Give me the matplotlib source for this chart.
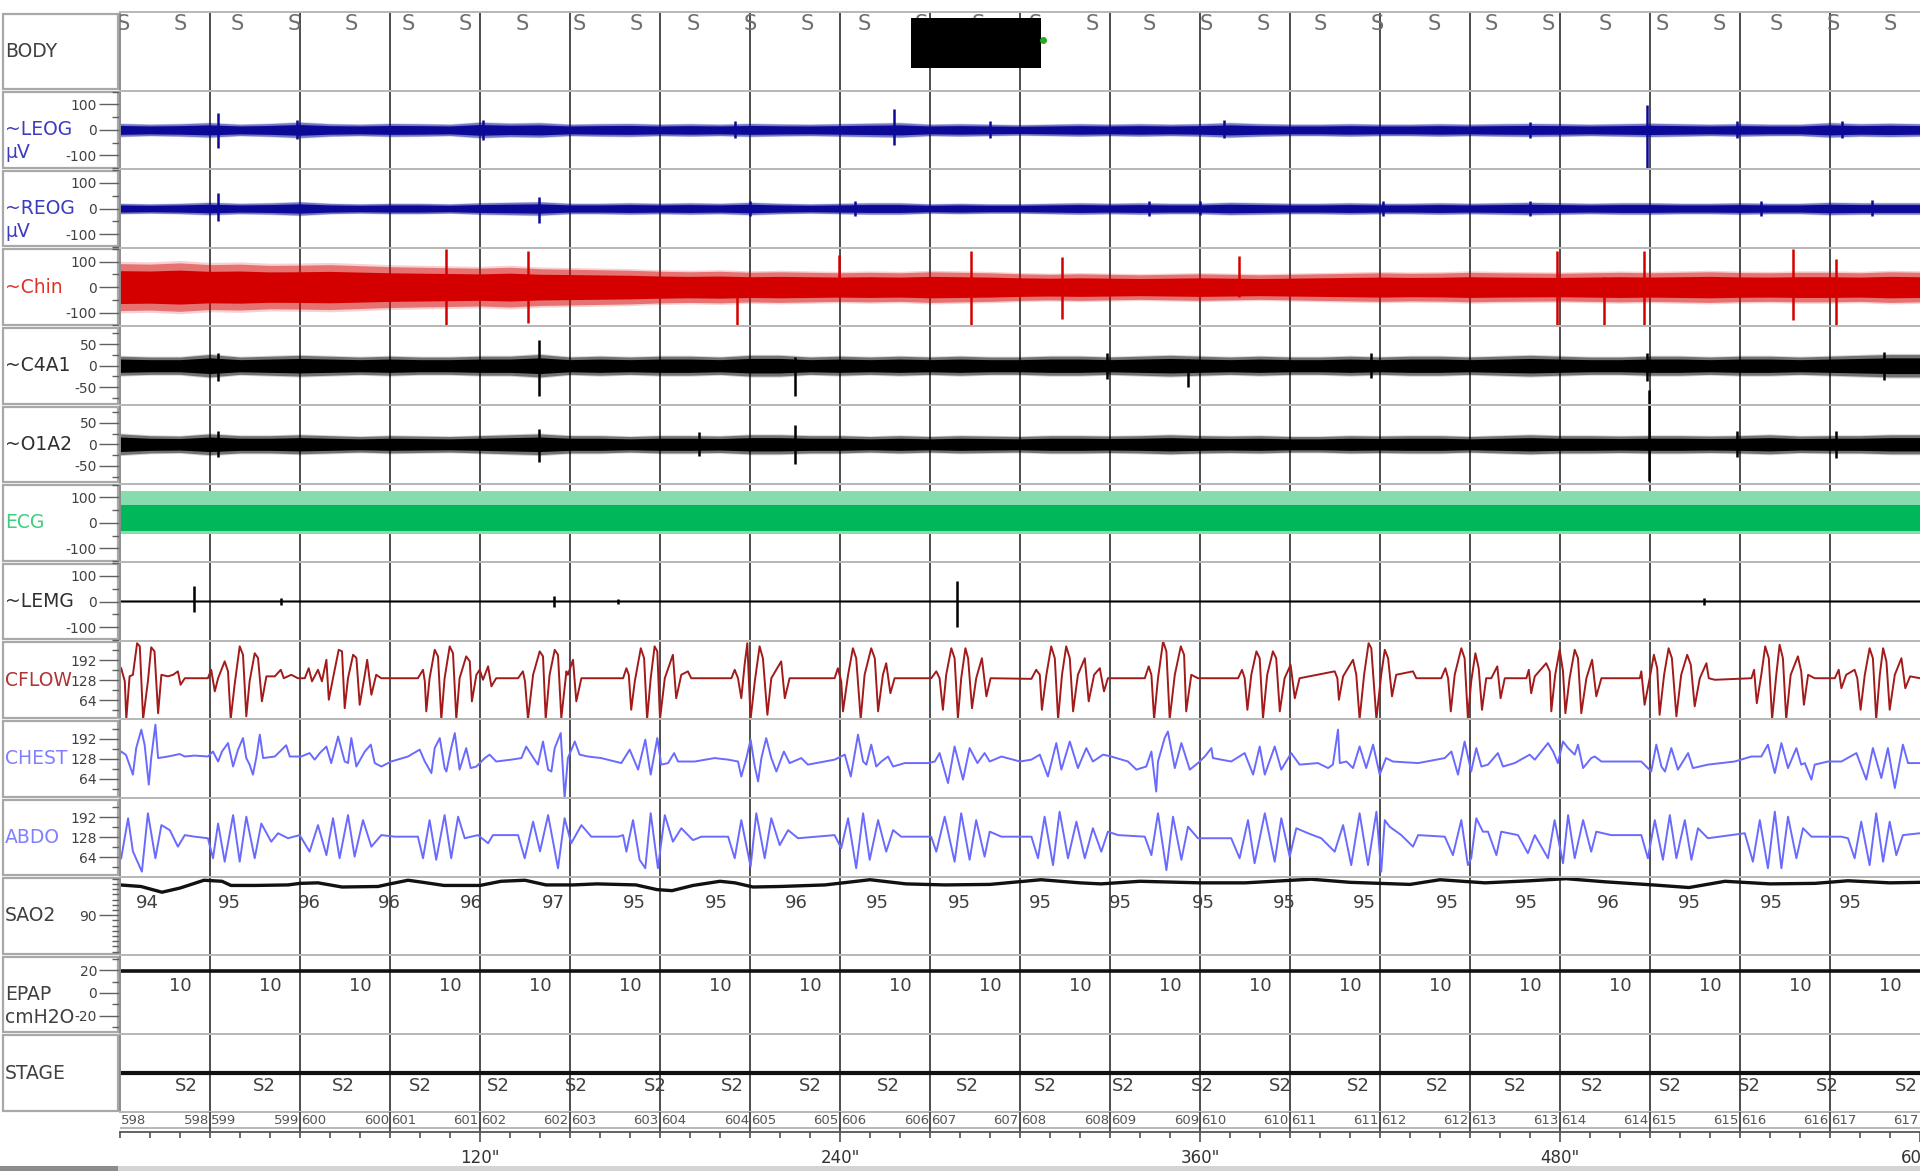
import numpy as np
import matplotlib
matplotlib.use("Agg")
import matplotlib.pyplot as plt
from matplotlib.patches import Rectangle

plt.rcParams["font.family"] = ["DejaVu Sans"]
plt.rcParams["axes.unicode_minus"] = False

# ---------------- data ----------------
rows = ["BODY", "~LEOG", "~REOG", "~Chin", "~C4A1", "~O1A2", "ECG", "~LEMG",
        "CFLOW", "CHEST", "ABDO", "SAO2", "EPAP", "STAGE"]
row_units = {"~LEOG": "µV", "~REOG": "µV", "EPAP": "cmH2O"}
epochs = list(range(598, 618))          # 30 s epochs, 0..600 s on screen
time_labels = [120, 240, 360, 480, 600]

# body position marks ("S") and the redacted box
body_t = [1, 20, 39, 58, 77, 96, 115, 134, 153, 172, 191, 210, 229, 248, 267, 286,
          305, 324, 343, 362, 381, 400, 419, 438, 457, 476, 495, 514, 533, 552, 571, 590]

# noisy channels: envelope (+/- amplitude) every 10 s, plus single spikes (t, up, down)
env_t = list(range(0, 610, 10))
leog_amp = [25, 22, 24, 28, 22, 25, 30, 24, 22, 25, 24, 22, 30, 26, 28, 22, 24, 25, 22, 24,
            22, 25, 23, 22, 24, 26, 28, 22, 24, 22, 20, 22, 24, 22, 24, 22, 24, 28, 24, 22,
            22, 24, 22, 22, 24, 22, 24, 25, 24, 22, 24, 26, 24, 22, 24, 22, 22, 28, 24, 26, 24]
leog_spk = [(32.7, 65, 70), (59, 40, 35), (121, 38, 38), (205, 33, 33), (258, 82, 60),
            (290, 35, 30), (368, 38, 32), (470, 32, 30), (509, 96, 150), (539, 34, 30),
            (574, 36, 32)]
reog_amp = [20, 18, 20, 24, 20, 22, 26, 20, 18, 20, 20, 18, 22, 24, 26, 20, 20, 22, 20, 22,
            20, 24, 20, 18, 20, 22, 22, 18, 20, 18, 18, 20, 22, 20, 22, 20, 20, 24, 22, 20,
            20, 22, 20, 20, 22, 20, 22, 24, 22, 20, 22, 22, 20, 20, 22, 20, 20, 24, 22, 22, 22]
reog_spk = [(32.6, 62, 48), (139.5, 45, 58), (210, 30, 30), (245, 30, 28), (343, 30, 30),
            (360, 30, 25), (421, 30, 28), (470, 28, 30), (547, 30, 28), (584, 32, 30)]
chin_amp = [92, 90, 95, 88, 90, 85, 86, 88, 84, 80, 78, 76, 74, 78, 72, 70, 68, 66, 62, 60,
            62, 58, 60, 58, 56, 58, 56, 60, 58, 56, 52, 50, 52, 50, 48, 50, 52, 50, 48, 50,
            52, 54, 56, 54, 55, 58, 56, 55, 54, 56, 58, 56, 58, 60, 57, 56, 58, 58, 56, 60, 58]
chin_spk = [(108.6, 150, 150), (136, 140, 140), (205.6, 40, 150), (239.5, 125, 40),
            (283.6, 140, 150), (314, 118, 125), (373, 120, 40), (479, 140, 150),
            (494.5, 40, 150), (508, 140, 150), (557.7, 150, 130), (572, 110, 150)]
c4a1_amp = [22, 20, 20, 26, 20, 22, 24, 22, 20, 22, 20, 20, 22, 22, 26, 20, 22, 20, 22, 22,
            20, 24, 24, 20, 22, 20, 22, 20, 22, 20, 20, 22, 22, 20, 22, 24, 22, 20, 22, 20,
            20, 22, 20, 22, 22, 20, 22, 24, 22, 20, 20, 22, 22, 20, 22, 22, 20, 22, 24, 26, 26]
c4a1_spk = [(32.7, 30, 35), (139.5, 60, 70), (225, 20, 70), (329, 30, 30), (356, 15, 50),
            (417, 30, 28), (509, 30, 35), (588, 32, 32)]
o1a2_amp = [24, 20, 19, 24, 20, 20, 22, 20, 18, 20, 19, 18, 20, 22, 24, 20, 20, 18, 20, 20,
            19, 22, 22, 20, 20, 18, 20, 18, 20, 19, 18, 20, 20, 19, 20, 22, 20, 19, 20, 18,
            18, 20, 19, 20, 20, 18, 20, 22, 20, 20, 19, 20, 20, 19, 20, 22, 19, 20, 20, 22, 22]
o1a2_spk = [(32.7, 30, 30), (139.5, 35, 40), (193, 28, 28), (225, 45, 45), (509.6, 125, 85),
            (539, 30, 30), (572, 30, 32)]
ecg_light = (-45, 125)
ecg_dark = (-30, 72)
lemg_amp = 4
lemg_spk = [(24.5, 62, 43), (53.5, 15, 15), (144.7, 20, 22), (166, 10, 10), (279, 82, 100),
            (528, 14, 14)]

# respiratory traces, (t [s], value)
cflow_pts = [
    (0.4, 166), (1.6, 124), (2.1, 3), (3.2, 140), (4.3, 145), (5.7, 246), (6.6, 236), (7.7, 3),
    (9.3, 124), (10.4, 233), (11.5, 220), (12.7, 22), (13.8, 145), (16, 140), (17.7, 145),
    (19.3, 156), (20.2, 113), (21.6, 134), (29.3, 134), (30.4, 161), (31.6, 92), (32.7, 134),
    (34.9, 188), (36, 156), (36.9, 3), (38.2, 113), (39.9, 236), (41, 209), (42.1, 12),
    (43.2, 124), (44.9, 214), (46, 199), (47.3, 60), (48.8, 140), (51.6, 140), (53.6, 161),
    (54.6, 134), (57.1, 145), (59.3, 134), (61.6, 134), (62.9, 166), (64, 124), (66, 161),
    (67.3, 124), (68.8, 193), (69.6, 65), (71, 134), (72.9, 225), (74, 220), (74.9, 38),
    (76, 134), (77.7, 209), (78.8, 199), (79.9, 49), (81.6, 145), (82.4, 193), (83.8, 81),
    (85.4, 145), (87.1, 134), (99.3, 134), (101, 161), (101.6, 124), (102.1, 28), (103.2, 134),
    (104.9, 225), (106, 204), (107.1, 3), (108.2, 134), (109.9, 236), (111, 214), (112.1, 3),
    (113.2, 134), (115.4, 204), (116.6, 188), (117.3, 60), (118.8, 145), (119.9, 161),
    (121, 129), (122.7, 172), (123.8, 108), (125.4, 134), (132.7, 134), (134.3, 156),
    (135, 124), (136, 3), (137.7, 145), (139.9, 220), (141, 204), (141.9, 3), (143.2, 145),
    (144.9, 225), (146, 209), (147.1, 6), (148.8, 156), (149.3, 145), (151, 193), (152.1, 60),
    (153.8, 134), (167.7, 134), (168.8, 166), (169.6, 145), (170.4, 33), (171.6, 124),
    (173.6, 230), (174.7, 198), (175.7, 3), (176.9, 134), (178.2, 236), (179.1, 220), (180, 3),
    (181.6, 134), (184.3, 209), (185.4, 70), (187.1, 145), (189.3, 156), (190.4, 134),
    (203.8, 134), (204.9, 161), (206, 134), (207.1, 70), (208.2, 177), (209.1, 246),
    (210.2, 3), (211.6, 124), (213.2, 236), (214.3, 198), (215.8, 17), (217.1, 134),
    (220.4, 188), (221.6, 70), (223.2, 134), (238.2, 134), (239.3, 166), (240.4, 124),
    (241, 28), (242.7, 145), (244.3, 230), (245.4, 198), (246.9, 3), (248.2, 145), (250.4, 230),
    (251.6, 198), (252.7, 28), (254.3, 145), (255.4, 182), (256.8, 86), (258.2, 134),
    (270.4, 134), (272.1, 156), (273.2, 134), (274.3, 33), (275.4, 145), (277.1, 230),
    (278.2, 198), (279.3, 6), (280.4, 134), (281.8, 230), (282.7, 198), (284, 38), (285.4, 134),
    (287.3, 198), (288.8, 76), (290.2, 134), (303.8, 132), (305.4, 161), (306.6, 145),
    (307.3, 33), (308.8, 145), (310.4, 236), (311.6, 198), (312.7, 3), (314, 145), (315.4, 236),
    (316.6, 198), (317.7, 28), (319.3, 145), (321.6, 198), (322.9, 60), (324.7, 145),
    (326.6, 166), (328, 92), (329.3, 134), (341.6, 134), (342.9, 172), (343.8, 145), (344.7, 3),
    (346, 134), (347.7, 252), (348.8, 220), (349.9, 3), (351.6, 145), (353.6, 236),
    (354.7, 209), (355.4, 28), (357.1, 145), (359.3, 134), (372.7, 134), (374, 161),
    (374.9, 134), (375.8, 33), (377.1, 145), (378.8, 220), (379.9, 198), (381, 6), (382.4, 145),
    (384.3, 220), (385.4, 198), (386.6, 28), (388.2, 134), (390.2, 177), (391.6, 70),
    (393.2, 134), (404.9, 156), (405.8, 134), (406.3, 65), (407.7, 140), (411, 193),
    (412.1, 145), (413.2, 3), (414.7, 145), (416.2, 246), (417.1, 230), (418.8, 3), (420.4, 145),
    (421.6, 225), (422.7, 198), (424, 76), (425.4, 145), (431, 156), (432.1, 134), (440.4, 134),
    (441.8, 166), (442.7, 134), (443.6, 28), (444.9, 145), (447.1, 230), (448.2, 198),
    (449.3, 6), (450.4, 124), (451.8, 214), (452.9, 166), (454, 33), (455.4, 134), (457.1, 134),
    (459.1, 172), (460.2, 70), (461.6, 134), (468.8, 134), (469.6, 161), (470.4, 86),
    (471.6, 140), (475.4, 182), (476.6, 156), (477.1, 28), (478.4, 145), (479.9, 225),
    (481, 156), (481.8, 22), (483.2, 134), (484.9, 225), (486, 198), (487.1, 22), (488.8, 134),
    (490.7, 193), (492.1, 76), (493.8, 134), (506.6, 134), (507.1, 156), (508.2, 49),
    (509.9, 134), (511.3, 209), (512.4, 166), (513.2, 17), (514.7, 145), (516.2, 230),
    (517.3, 198), (518.8, 12), (520.4, 145), (522.4, 209), (523.6, 177), (524.9, 44),
    (526.6, 134), (528.8, 182), (529.6, 134), (531.6, 129), (543.8, 134), (544.7, 161),
    (545.6, 54), (547.1, 145), (548.4, 236), (549.6, 198), (550.7, 3), (552.1, 145),
    (553.2, 241), (554.3, 198), (555.4, 3), (556.9, 145), (559.3, 204), (560.4, 156),
    (561.3, 49), (562.7, 145), (564.9, 134), (571.6, 134), (572.9, 161), (573.8, 102),
    (575.4, 145), (578.2, 161), (579.1, 134), (580.2, 33), (581.6, 145), (583.2, 230),
    (584.3, 198), (585.4, 3), (586.6, 145), (587.7, 230), (588.8, 188), (589.9, 33),
    (591.6, 145), (593.8, 198), (595.1, 102), (596.7, 140), (600, 134)]

chest_pts = [
    (0, 145), (0.4, 151), (2, 140), (4.3, 77), (5.4, 162), (7.1, 221), (8.2, 173), (9.6, 45),
    (10.4, 130), (11.8, 237), (12.7, 130), (16, 135), (19.9, 143), (21.6, 135), (24.9, 138),
    (29.3, 135), (31, 151), (32.7, 119), (34, 151), (36, 178), (37.7, 103), (39.3, 156),
    (41, 194), (42.1, 130), (43.2, 109), (44.3, 77), (45.4, 130), (46.6, 205), (47.7, 130),
    (51.6, 135), (55.4, 171), (56.6, 135), (60.4, 135), (63.2, 146), (64.9, 125), (66.6, 146),
    (68.8, 167), (70.4, 114), (72.7, 199), (74.9, 119), (76, 114), (77.1, 194), (78.8, 103),
    (81.6, 151), (83.6, 173), (84.9, 114), (87.1, 103), (90.4, 119), (96, 135), (99.9, 157),
    (101.6, 119), (103.8, 82), (104.9, 162), (106.6, 194), (108.2, 98), (108.8, 87),
    (110.4, 162), (111.6, 210), (113.2, 93), (115.4, 162), (116.9, 98), (118.8, 103),
    (121.6, 130), (123.2, 141), (125.4, 119), (130.4, 125), (133.8, 130), (135.4, 167),
    (137.1, 141), (139.3, 109), (141, 183), (142.7, 93), (143.8, 87), (144.9, 162),
    (146.9, 210), (148.2, 2), (149.3, 130), (151.6, 183), (153.2, 141), (156, 135),
    (160.4, 130), (167.1, 114), (169.9, 157), (172.7, 93), (175.1, 189), (176.9, 77),
    (179.1, 194), (180.4, 109), (182.7, 114), (184.7, 146), (186, 119), (191.6, 119),
    (198.2, 130), (202.7, 125), (206, 119), (207.1, 71), (208.8, 130), (210.2, 189),
    (211.6, 103), (212.7, 55), (213.8, 130), (215.4, 194), (217.1, 130), (218.8, 87),
    (221.3, 151), (223.2, 114), (227.1, 130), (229.3, 109), (238.2, 125), (241.6, 141),
    (243.6, 71), (246, 205), (247.7, 119), (248.8, 109), (250.4, 173), (252.1, 103),
    (253.8, 119), (256, 135), (257.7, 103), (261.6, 114), (269.3, 114), (271.6, 119),
    (273.2, 146), (276, 50), (278.2, 167), (281, 61), (283.2, 162), (285.8, 114), (288.2, 146),
    (289.9, 119), (293.8, 135), (300, 119), (303.8, 125), (306.6, 141), (309.3, 71),
    (312.1, 178), (313.8, 93), (316.6, 183), (319.3, 98), (322.1, 162), (324.3, 119),
    (327.7, 141), (330.4, 135), (336, 119), (338.8, 93), (342.1, 103), (343.8, 151),
    (345.4, 23), (346, 119), (348.2, 194), (349.3, 215), (351.6, 98), (353.8, 178), (356.6, 93),
    (359.3, 114), (361.6, 135), (363.8, 162), (364.3, 130), (370.4, 119), (374.9, 146),
    (377.7, 77), (379.9, 167), (381.6, 77), (384.9, 167), (387.1, 93), (390.4, 146),
    (393.2, 109), (399.3, 114), (402.7, 98), (404.3, 109), (406, 221), (406.6, 114),
    (408.8, 119), (411, 98), (413.2, 167), (415.4, 98), (417.7, 173), (419.9, 77), (422, 130),
    (424.3, 119), (432.7, 114), (441.6, 130), (443.8, 151), (446, 77), (448.2, 183),
    (450.4, 87), (452.1, 162), (453.8, 103), (456, 109), (459.3, 146), (461, 103), (464.9, 114),
    (469.9, 141), (471.6, 125), (476, 178), (477.7, 151), (479.3, 114), (481, 183),
    (482.7, 162), (484.9, 141), (486, 173), (487.7, 98), (490.4, 130), (491.6, 135),
    (493.8, 119), (499.3, 119), (507.1, 119), (510.4, 87), (512.1, 173), (513.8, 103), (515, 87),
    (517.1, 162), (519.3, 93), (522.7, 146), (524.3, 98), (529.3, 109), (538.2, 119),
    (543.8, 135), (547.1, 135), (549.3, 173), (551.6, 82), (553.8, 178), (556, 98), (558.8, 162),
    (560.4, 109), (561.6, 114), (563.8, 61), (564.9, 109), (569.3, 119), (573.8, 119),
    (578.8, 146), (582.1, 61), (584.3, 162), (587.1, 66), (589.3, 162), (591.6, 34),
    (594.3, 173), (596, 114), (600, 114)]

abdo_pts = [
    (0.4, 61), (2.7, 189), (4.3, 83), (7.3, 18), (9.3, 205), (11.8, 61), (13.8, 167),
    (16.6, 151), (19.3, 98), (21.6, 135), (24.9, 130), (29.3, 125), (31, 61), (32.7, 172),
    (34.9, 50), (37.7, 199), (39.9, 50), (42.1, 194), (44.9, 61), (47.1, 172), (50.4, 114),
    (52.7, 141), (56, 125), (59.9, 135), (63.2, 82), (66, 167), (68.8, 71), (71, 189), (73.2, 61),
    (76, 199), (78.2, 66), (81, 183), (83.8, 98), (87.1, 135), (91.6, 130), (99.3, 130),
    (101, 61), (103.2, 183), (105.4, 56), (108.2, 199), (110.4, 61), (112.7, 194), (114.9, 125),
    (119.3, 135), (122.7, 109), (124.3, 135), (132.7, 135), (134.9, 61), (137.7, 178),
    (140, 83), (142.7, 199), (146, 29), (148.2, 189), (150.4, 109), (153.8, 167), (157.1, 130),
    (166, 130), (167.7, 135), (168.8, 82), (171, 183), (173.2, 56), (175.1, 29), (176.9, 205),
    (179.3, 29), (181.6, 199), (184.3, 114), (187.1, 157), (191, 119), (193.8, 130),
    (202.7, 130), (204.9, 61), (207.1, 183), (210.2, 34), (212.1, 205), (214.9, 61),
    (217.1, 189), (219.9, 103), (222.7, 151), (226, 125), (238.2, 135), (240.4, 93),
    (242.7, 189), (245.4, 29), (247.7, 205), (249.9, 56), (252.7, 183), (255.4, 82),
    (257.7, 151), (260.4, 130), (270.4, 130), (272.1, 82), (274.9, 194), (278.2, 50),
    (280.4, 205), (283.2, 56), (285.4, 183), (288.2, 66), (289.9, 146), (293.8, 130),
    (303.8, 130), (306, 61), (308.2, 194), (311, 39), (313.2, 210), (316, 61), (318.8, 178),
    (321.6, 61), (324.3, 157), (327.1, 82), (329.3, 146), (332.7, 135), (341.6, 130),
    (343.8, 71), (346, 205), (348.8, 23), (351, 194), (353.8, 56), (356, 162), (359.3, 125),
    (370.4, 125), (373.2, 61), (376, 183), (378.2, 45), (381.6, 205), (384.9, 50), (387.1, 189),
    (389.9, 66), (392.1, 157), (396, 141), (400.4, 125), (404.9, 82), (407.7, 167),
    (410.4, 39), (413.2, 205), (416, 39), (418.8, 210), (420.4, 18), (421.6, 183), (423.2, 162),
    (427.1, 135), (431, 98), (432.7, 135), (441.6, 130), (444.3, 71), (447.1, 183), (449.3, 39),
    (450.4, 61), (452.1, 189), (454.3, 146), (456, 146), (458.8, 71), (460.4, 146), (466, 135),
    (469.3, 77), (471.6, 135), (476, 61), (478.2, 183), (481, 45), (482.7, 199), (484.9, 61),
    (487.7, 183), (490.4, 82), (492.1, 146), (497.1, 135), (507.1, 135), (509.3, 61),
    (511.6, 183), (514.3, 56), (516.6, 199), (518.8, 61), (521.6, 183), (523.8, 56), (526, 157),
    (529.3, 125), (537.1, 135), (541.6, 141), (544.3, 50), (546.6, 183), (549.3, 29),
    (551.6, 210), (553.8, 29), (556, 194), (558.8, 61), (561, 157), (563.8, 130), (573.8, 130),
    (576, 125), (578.2, 61), (580.4, 178), (583.2, 39), (585.4, 205), (587.7, 50), (589.9, 178),
    (592.1, 71), (594.3, 135), (600, 141)]

# oxygen saturation trace and per-interval readouts
sao2_t = [0, 7, 14, 20, 28, 34, 37, 45, 56, 60, 66, 74, 86, 90, 96, 101, 108, 120, 127, 135,
          142, 151, 159, 172, 179, 184, 191, 200, 205, 211, 220, 235, 250, 262, 275, 290, 307,
          320, 327, 340, 360, 375, 397, 410, 430, 440, 455, 470, 482, 495, 511, 523, 535, 550,
          565, 576, 590, 600]
sao2_v = [95.8, 95.5, 94.4, 95.2, 96.7, 96.5, 95.7, 95.7, 95.8, 96.1, 96.2, 95.4, 95.5, 96.0,
          96.7, 96.3, 95.7, 95.7, 96.5, 96.7, 95.8, 95.8, 96.0, 95.8, 94.9, 94.7, 95.7, 96.5,
          96.2, 95.4, 95.5, 95.8, 96.8, 96.0, 95.8, 95.9, 96.8, 96.2, 96.0, 96.5, 96.2, 96.2,
          96.9, 96.3, 95.9, 96.8, 96.2, 96.6, 97.0, 96.4, 95.8, 95.3, 96.5, 96.0, 96.1, 96.6,
          96.2, 96.3]
sao2_lab_t = [9, 36.3, 63.2, 89.8, 117, 144.4, 171.4, 198.7, 225.6, 252.6, 279.9, 306.8, 333.3,
              361, 388, 414.9, 442.3, 468.8, 496.1, 523, 550.4, 576.9]
sao2_lab = [94, 95, 96, 96, 96, 97, 95, 95, 96, 95, 95, 95, 95, 95, 95, 95, 95, 95, 96, 95, 95, 95]

epap_level = 19.5
epap_lab_t = [20, 50, 80, 110, 140, 170, 200, 230, 260, 290, 320, 350, 380, 410, 440, 470,
              500, 530, 560, 590]
epap_lab = [10] * 20

stage_lab_t = [22.0, 48.1, 74.3, 100.0, 126.1, 152.2, 178.3, 204.0, 230.1, 256.2, 282.3, 308.4,
               334.6, 360.7, 386.8, 412.9, 439.0, 465.1, 490.8, 516.9, 543.1, 569.2, 595.3]
stage_lab = ["S2"] * len(stage_lab_t)

# ---------------- layout (pixels) ----------------
W, H = 1920, 1171
ROW_TOP, ROW_H = 12, 78.6
PL = 120

label_col = {"BODY": "#404040", "~LEOG": "#3c3cc0", "~REOG": "#3c3cc0", "~Chin": "#e0302a",
             "~C4A1": "#303030", "~O1A2": "#303030", "ECG": "#3ccf7e", "~LEMG": "#303030",
             "CFLOW": "#b03434", "CHEST": "#8080ff", "ABDO": "#8080ff", "SAO2": "#404040",
             "EPAP": "#404040", "STAGE": "#404040"}

uv100 = ((-154, 154), [-100, 0, 100], [-150, -50, 50, 150])
uv50 = ((-91, 91), [-50, 0, 50], [-75, -25, 25, 75])
resp = ((2.2, 253.8), [64, 128, 192], [32, 96, 160, 224])
yscale = {"~LEOG": uv100, "~REOG": uv100, "~Chin": uv100, "~C4A1": uv50, "~O1A2": uv50,
          "ECG": uv100, "~LEMG": uv100, "CFLOW": resp, "CHEST": resp, "ABDO": resp,
          "SAO2": ((82.3, 97.4), [90], [v for v in range(83, 98) if v != 90]),
          "EPAP": ((-35.9, 33.1), [-20, 0, 20], [-30, -10, 10, 30]),
          "BODY": ((0, 1), [], []), "STAGE": ((-1, 1), [], [])}

fig = plt.figure(figsize=(W / 100, H / 100), dpi=100)
bg = fig.add_axes([0, 0, 1, 1])
bg.set_xlim(0, W)
bg.set_ylim(H, 0)
bg.axis("off")

GRID = "#4d4d4d"
bounds = [30 * k for k in range(1, len(epochs))]


def band(ax, amp, spk, color, clip=True):
    # dense signal drawn as a soft-edged envelope: solid core, lighter fringe
    a = np.array(amp, dtype=float)
    ax.fill_between(env_t, -a * 1.1, a * 1.1, color=color, lw=0, alpha=0.18, zorder=2)
    ax.fill_between(env_t, -a, a, color=color, lw=0, alpha=0.45, zorder=2)
    ax.fill_between(env_t, -a * 0.7, a * 0.7, color=color, lw=0, alpha=1, zorder=2)
    for t, up, dn in spk:
        ax.vlines(t, -dn, up, color=color, lw=1.8, zorder=2, clip_on=clip)


axes = {}
for i, name in enumerate(rows):
    top = ROW_TOP + i * ROW_H
    ax = fig.add_axes([PL / W, 1 - (top + ROW_H) / H, (W - PL) / W, ROW_H / H])
    axes[name] = ax
    ax.set_facecolor("none")
    ax.set_xlim(0, 600)
    lim, major, minor = yscale[name]
    ax.set_ylim(*lim)
    ax.set_xticks([])
    ax.set_yticks(major)
    ax.set_yticklabels([str(v) for v in major])
    ax.set_yticks(minor, minor=True)
    ax.tick_params(axis="y", which="major", length=15, width=1, color="#606060",
                   labelsize=10, labelcolor="#404040", pad=1.5)
    ax.tick_params(axis="y", which="minor", length=6, width=1, color="#606060")
    for s in ("top", "bottom"):
        ax.spines[s].set_color("#b8b8b8")
        ax.spines[s].set_linewidth(1.4)
    ax.spines["right"].set_visible(False)
    ax.spines["left"].set_color("#8c8c8c")
    ax.spines["left"].set_linewidth(1.4)
    for t in bounds:
        ax.axvline(t, color=GRID, lw=1.4, zorder=1)

    # label panel
    bg.add_patch(Rectangle((3, top + 1.5), 115, ROW_H - 3, fill=False, ec="#a8a8a8", lw=1.6))
    cy = top + ROW_H / 2
    bg.text(5, cy, name, fontsize=13.5, color=label_col[name], va="center", ha="left")
    if name in row_units:
        bg.text(5, cy + 23, row_units[name], fontsize=13.5, color=label_col[name],
                va="center", ha="left")

# BODY
ax = axes["BODY"]
for t in body_t:
    ax.text(t, 0.85, "S", transform=ax.get_xaxis_transform(), ha="center", va="center",
            fontsize=15, color="#707070", clip_on=True)

band(axes["~LEOG"], leog_amp, leog_spk, "#0a0a96")
band(axes["~REOG"], reog_amp, reog_spk, "#0a0a96")
band(axes["~Chin"], chin_amp, chin_spk, "#d40000")
band(axes["~C4A1"], c4a1_amp, c4a1_spk, "#000000")
band(axes["~O1A2"], o1a2_amp, o1a2_spk, "#000000", clip=False)

ax = axes["ECG"]
ax.fill_between([0, 600], ecg_light[0], ecg_light[1], color="#86dcad", lw=0, zorder=2)
ax.fill_between([0, 600], ecg_dark[0], ecg_dark[1], color="#00b85a", lw=0, zorder=2)

band(axes["~LEMG"], [lemg_amp] * len(env_t), lemg_spk, "#000000")

for name, pts, col in (("CFLOW", cflow_pts, "#a31a1a"), ("CHEST", chest_pts, "#6a6aff"),
                       ("ABDO", abdo_pts, "#6a6aff")):
    t, v = zip(*pts)
    axes[name].plot(t, v, color=col, lw=1.4, zorder=2, solid_joinstyle="round")

ax = axes["SAO2"]
ax.plot(sao2_t, sao2_v, color="#111111", lw=2.4, zorder=2)
for t, v in zip(sao2_lab_t, sao2_lab):
    ax.text(t, 92.4, str(v), ha="center", va="center", fontsize=13, color="#404040")

ax = axes["EPAP"]
ax.axhline(epap_level, color="#111111", lw=2.6, zorder=2)
for t, v in zip(epap_lab_t, epap_lab):
    ax.text(t, 6.4, str(v), ha="center", va="center", fontsize=13, color="#404040")

ax = axes["STAGE"]
ax.axhline(0, color="#111111", lw=3, zorder=2)
for t, s in zip(stage_lab_t, stage_lab):
    ax.text(t, -0.32, s, ha="center", va="center", fontsize=13, color="#404040")

# epoch number strip + time axis
strip_top = ROW_TOP + len(rows) * ROW_H
axs = fig.add_axes([PL / W, 1 - 1132 / H, (W - PL) / W, (1132 - strip_top) / H])
axs.set_facecolor("none")
axs.set_xlim(0, 600)
axs.set_ylim(0, 1)
axs.set_yticks([])
for s in ("top", "right", "left"):
    axs.spines[s].set_visible(False)
axs.spines["bottom"].set_color("#555555")
axs.spines["bottom"].set_linewidth(1.3)
axs.axhline(1, color="#b8b8b8", lw=1.4)
axs.axhline(0.2, color="#b8b8b8", lw=1.4)
for t in bounds:
    axs.axvline(t, color=GRID, lw=1.4)
for k, ep in enumerate(epochs):
    axs.text(30 * k + 0.4, 0.6, str(ep), ha="left", va="center", fontsize=9.5, color="#555555")
    axs.text(30 * k + 29.6, 0.6, str(ep), ha="right", va="center", fontsize=9.5,
             color="#555555")
axs.set_xticks(time_labels)
axs.set_xticklabels([f'{v}"' for v in time_labels])
axs.set_xticks(list(range(0, 601, 10)), minor=True)
axs.tick_params(axis="x", which="major", length=7, width=1.1, color="#444444", labelsize=12,
                labelcolor="#333333", pad=5)
axs.tick_params(axis="x", which="minor", length=4, width=1.1, color="#444444")

bg.add_patch(Rectangle((0, 1166), W, 5, color="#d4d4d4", lw=0))
bg.add_patch(Rectangle((0, 1166), 118, 5, color="#8c8c8c", lw=0))

# redaction box on top
ov = fig.add_axes([0, 0, 1, 1], zorder=5)
ov.set_xlim(0, W)
ov.set_ylim(H, 0)
ov.axis("off")
ov.add_patch(Rectangle((911, 18), 130, 50, color="black", lw=0))
ov.plot([1043], [40], "o", color="#22aa22", ms=4)

fig.savefig("out.png", dpi=100)
